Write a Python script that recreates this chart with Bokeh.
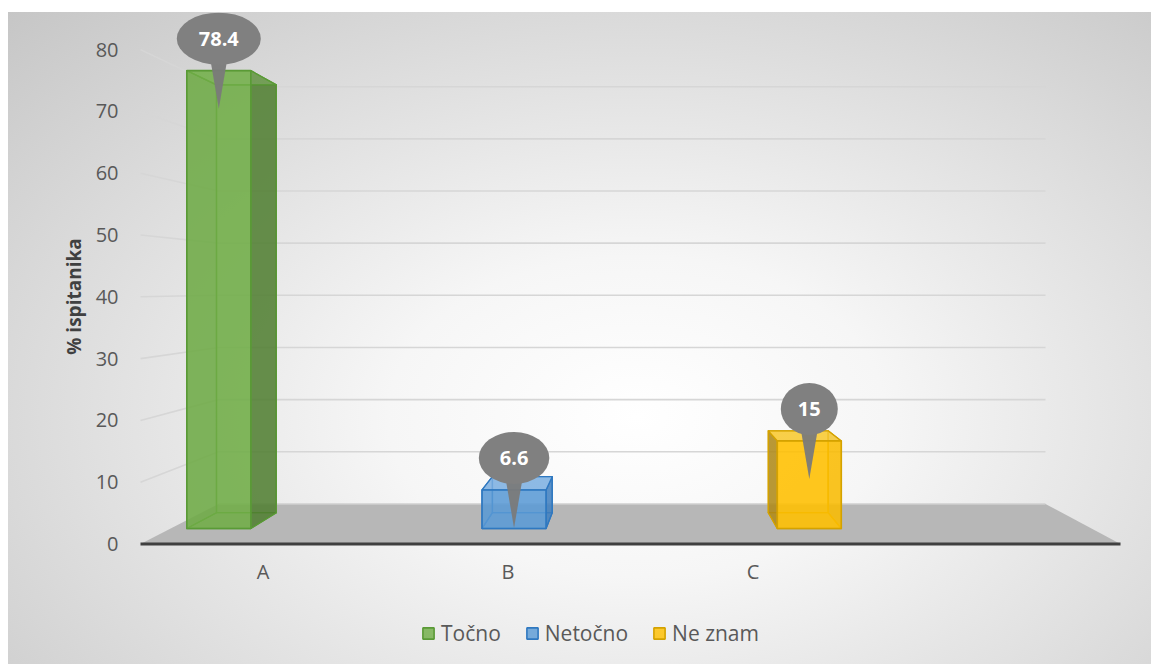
import math
from bokeh.plotting import figure
from bokeh.models import Range1d, FixedTicker, Legend, LegendItem, ColumnDataSource
from bokeh.embed import file_html
from bokeh.resources import INLINE
from bokeh.core.properties import value

# ---------------- data ----------------
categories = ["A", "B", "C"]
series = ["Točno", "Netočno", "Ne znam"]
values = [78.4, 6.6, 15]
value_labels = ["78.4", "6.6", "15"]
y_ticks = [0, 10, 20, 30, 40, 50, 60, 70, 80]
y_title = "% ispitanika"
n_slots = 4  # category axis has room for a fourth (empty) slot

# ---------------- styles ----------------
front_fill = ["#70ad47", "#5b9bd5", "#ffc000"]
edge_col = ["#5a9a36", "#2f78c0", "#d4a200"]
side_fill = ["#4d7a30", "#3f7dbd", "#a8851a"]
top_fill = ["#8cc266", "#7fb2e2", "#f7c933"]
FONT = "Open Sans"

# ---------------- geometry (page pixels) ----------------
PAGE_X, PAGE_Y = 8, 12
FL, FT, FR, FB = PAGE_X, PAGE_Y, 1151, 664
FW, FH = FR - FL, FB - FT
AXIS_X_PX, AXIS_Y_PX = 130, 560   # where the axes sit


def make_range(pa, va, pb, vb, p_lo, p_hi):
    k = (vb - va) / (pb - pa)
    return va + (p_lo - pa) * k, va + (p_hi - pa) * k, k


# main coordinates: category slots on front floor edge, front axis values
mx0, mx1, kmx = make_range(140, -0.5, 1120, n_slots - 0.5, FL, FR)
my0, my1, kmy = make_range(543.5, 0, 49.1, 80, FB, FT)
# bar coordinates: bar front-face plane
bx0, bx1, kbx = make_range(218.3, 0, 808.8, 2, FL, FR)
by0, by1, kby = make_range(528, 0, 236, 50, FB, FT)

VP_PX = (639.7, 286.8)      # vanishing point in page pixels
S_FLOOR = 0.8438            # depth factor of back wall
S_BAR = 0.9345              # depth factor of bar back faces


def to_main(px, py):
    return mx0 + (px - FL) * kmx, my0 + (py - FB) * kmy


def to_bar(px, py):
    return bx0 + (px - FL) * kbx, by0 + (py - FB) * kby


vpm = to_main(*VP_PX)
vpb = to_bar(*VP_PX)


def proj(pt, vp, s):
    return vp[0] + s * (pt[0] - vp[0]), vp[1] + s * (pt[1] - vp[1])


p = figure(frame_width=FW, frame_height=FH,
           x_range=Range1d(mx0, mx1), y_range=Range1d(my0, my1),
           output_backend="svg", toolbar_location=None,
           min_border_left=0, min_border_right=0, min_border_top=0, min_border_bottom=0)
p.extra_x_ranges = {"bx": Range1d(bx0, bx1)}
p.extra_y_ranges = {"by": Range1d(by0, by1)}
p.margin = (PAGE_Y, 0, 0, PAGE_X)
p.background_fill_alpha = 0
p.border_fill_alpha = 0
p.outline_line_color = None
p.styles = {"background": "radial-gradient(ellipse farthest-corner at 55% 62%, #ffffff 0%, #f6f6f6 28%, #c6c6c6 100%)"}
p.xgrid.visible = False
p.ygrid.visible = False

# ---------------- back wall gridlines ----------------
left_front = -0.5
right_front = n_slots - 0.5
gxs, gys = [], []
for v in y_ticks[1:]:
    bl = proj((left_front, v), vpm, S_FLOOR)
    br = proj((right_front, v), vpm, S_FLOOR)
    gxs.append([left_front, bl[0], br[0]])
    gys.append([v, bl[1], br[1]])
p.multi_line(gxs, gys, line_color="#d6d6d6", line_width=1.6)

# ---------------- floor ----------------
fbl = proj((left_front, 0), vpm, S_FLOOR)
fbr = proj((right_front, 0), vpm, S_FLOOR)
p.patch([left_front, right_front, fbr[0], fbl[0]], [0, 0, fbr[1], fbl[1]],
        fill_color="#b7b7b7", line_color=None)
p.line([fbl[0], fbr[0]], [fbl[1], fbr[1]], line_color="#cfcfcf", line_width=1.5)
p.line([left_front, right_front], [0, 0], line_color="#3f3f3f", line_width=3.2)

# ---------------- bars (3D) ----------------
bar_w = 64 * kbx
legend_items = []
for i, (cat, s, v) in enumerate(zip(categories, series, values)):
    c = float(i)
    hw = bar_w / 2
    F = {"bl": (c - hw, 0), "br": (c + hw, 0), "tl": (c - hw, v), "tr": (c + hw, v)}
    B = {k: proj(pt, vpb, S_BAR) for k, pt in F.items()}

    def face(pts, fill, alpha):
        p.patch([q[0] for q in pts], [q[1] for q in pts], fill_color=fill, fill_alpha=alpha,
                line_color=edge_col[i], line_width=1.3, line_join="round",
                x_range_name="bx", y_range_name="by")

    face([B["bl"], B["br"], B["tr"], B["tl"]], front_fill[i], 0.35)
    face([F["bl"], F["br"], B["br"], B["bl"]], front_fill[i], 0.35)
    face([F["bl"], B["bl"], B["tl"], F["tl"]], side_fill[i], 0.8 if c > vpb[0] else 0.3)
    face([F["br"], B["br"], B["tr"], F["tr"]], side_fill[i], 0.8 if c < vpb[0] else 0.3)
    face([F["tl"], F["tr"], B["tr"], B["tl"]], top_fill[i], 0.8 if v < vpb[1] else 0.3)
    src = ColumnDataSource(dict(x=[c], top=[v], cat=[cat]))
    r = p.vbar(x="x", top="top", bottom=0, width=bar_w, source=src,
               fill_color=front_fill[i], fill_alpha=0.82, line_color=edge_col[i], line_width=1.6,
               x_range_name="bx", y_range_name="by")
    legend_items.append(LegendItem(label=s, renderers=[r]))

# ---------------- callouts ----------------
for i, (v, lab) in enumerate(zip(values, value_labels)):
    c = float(i)
    yc = v + 32 * (-kby)
    tip = v - 38 * (-kby)
    hb = 12 * kbx
    p.patch([c - hb, c + hb, c], [yc, yc, tip], fill_color="#7a7a7a", fill_alpha=0.95,
            line_color=None, x_range_name="bx", y_range_name="by")
    p.ellipse(x=[c], y=[yc], width=30 + 13.5 * len(lab), height=52,
              width_units="screen", height_units="screen",
              fill_color="#808080", line_color=None, x_range_name="bx", y_range_name="by")
    p.text(x=[c], y=[yc], text=[lab], text_align="center", text_baseline="middle",
           text_font=value(FONT), text_font_style="bold", text_font_size="20px",
           text_color="white", x_range_name="bx", y_range_name="by")

# ---------------- axes (fixed inside the frame) ----------------
yax = p.yaxis[0]
yax.fixed_location = to_main(AXIS_X_PX, 0)[0]
yax.ticker = FixedTicker(ticks=y_ticks)
yax.axis_line_color = None
yax.major_tick_line_color = None
yax.minor_tick_line_color = None
yax.major_label_standoff = 6
yax.major_label_text_font = FONT
yax.major_label_text_font_size = "20px"
yax.major_label_text_color = "#595959"

xax = p.xaxis[0]
xax.fixed_location = to_main(0, AXIS_Y_PX)[1]
xax.ticker = FixedTicker(ticks=list(range(len(categories))))
xax.major_label_overrides = {i: c for i, c in enumerate(categories)}
xax.axis_line_color = None
xax.major_tick_line_color = None
xax.minor_tick_line_color = None
xax.major_label_standoff = -9
xax.major_label_text_font = FONT
xax.major_label_text_font_size = "20px"
xax.major_label_text_color = "#595959"

# y-axis title
tx, ty = to_main(73.5, 296)
p.text(x=[tx], y=[ty], text=[y_title], angle=math.pi / 2, text_align="center",
       text_baseline="middle", text_font=value(FONT), text_font_style="bold",
       text_font_size="19px", text_color="#404040")

# ---------------- legend ----------------
legend = Legend(items=legend_items, orientation="horizontal", location=(421 - FL, 17),
                label_text_font=FONT, label_text_font_size="21px", label_text_color="#595959",
                glyph_width=14, glyph_height=14, label_standoff=6, spacing=24,
                padding=0, margin=0, background_fill_alpha=0, border_line_color=None)
p.add_layout(legend)

open("out.html", "w").write(file_html(p, INLINE))
